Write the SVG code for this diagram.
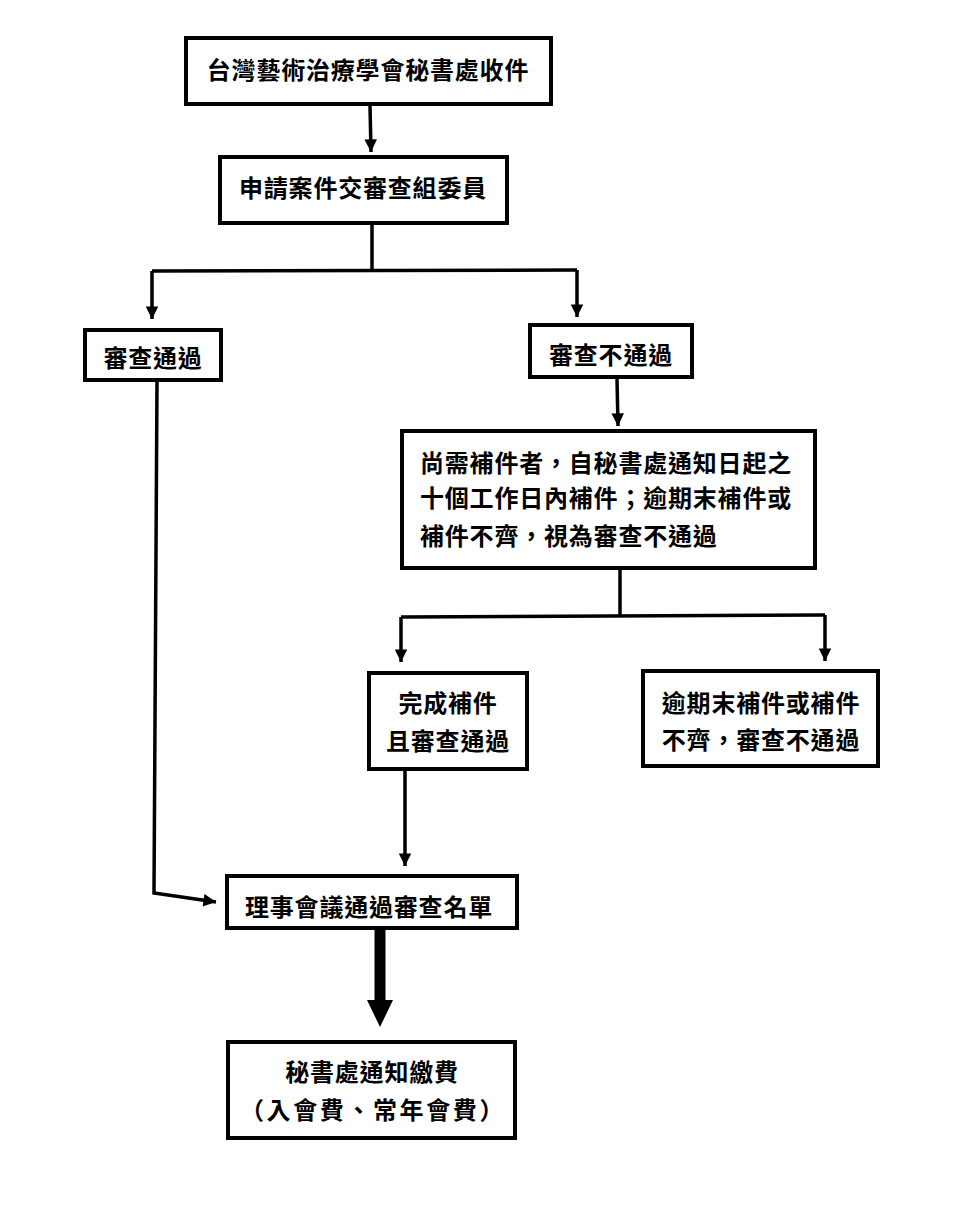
<svg xmlns="http://www.w3.org/2000/svg" width="955" height="1208" viewBox="0 0 955 1208">
<defs>
<marker id="ah" viewBox="0 0 10 10" refX="10" refY="5" markerWidth="4" markerHeight="3.6" orient="auto" markerUnits="strokeWidth">
<path d="M0,0 L10,5 L0,10 Z" fill="#000"/>
</marker>
<style>
.box{fill:#fff;stroke:#000;stroke-width:4}
.t{font-family:"Noto Sans CJK TC","Noto Sans CJK SC",sans-serif;font-size:24px;font-weight:700;fill:#000;letter-spacing:0.8px}
.c{text-anchor:middle}
.ln{fill:none;stroke:#000;stroke-width:3.5}
</style>
</defs>
<rect width="955" height="1208" fill="#fff"/>
<g id="connectors">
<path class="ln" d="M370,106 L371,152" marker-end="url(#ah)"/>
<path class="ln" d="M372,225 L372,271"/>
<path class="ln" d="M152,271 L577,270"/>
<path class="ln" d="M152,271 L152,319" marker-end="url(#ah)"/>
<path class="ln" d="M577,270 L577,317" marker-end="url(#ah)"/>
<path class="ln" d="M617,379 L618,426" marker-end="url(#ah)"/>
<path class="ln" d="M620,570 L620,615"/>
<path class="ln" d="M401,617 L825,615"/>
<path class="ln" d="M401,617 L401,662" marker-end="url(#ah)"/>
<path class="ln" d="M825,615 L825,661" marker-end="url(#ah)"/>
<path class="ln" d="M405,771 L405,866" marker-end="url(#ah)"/>
<path class="ln" d="M157,382 L154,893 L216,902" marker-end="url(#ah)"/>
<path d="M374.5,930 L385.5,930 L385.5,1000 L393,1000 L380,1027 L367,1000 L374.5,1000 Z" fill="#000"/>
</g>
<g id="n1"><rect class="box" x="186" y="38" width="365" height="66"/><text class="t c" x="368" y="79">台灣藝術治療學會秘書處收件</text></g>
<g id="n2"><rect class="box" x="220" y="157" width="287" height="66"/><text class="t c" x="363" y="197">申請案件交審查組委員</text></g>
<g id="n3"><rect class="box" x="85" y="330" width="136" height="50"/><text class="t c" x="153" y="367">審查通過</text></g>
<g id="n4"><rect class="box" x="530" y="325" width="162" height="52"/><text class="t c" x="611" y="364">審查不通過</text></g>
<g id="n5"><rect class="box" x="402" y="431" width="413" height="137"/>
<text class="t" x="420" y="472">尚需補件者，自秘書處通知日起之</text>
<text class="t" x="420" y="507">十個工作日內補件；逾期末補件或</text>
<text class="t" x="420" y="545">補件不齊，視為審查不通過</text></g>
<g id="n6"><rect class="box" x="369" y="673" width="158" height="96"/><text class="t c" x="448" y="712">完成補件</text><text class="t c" x="448" y="750">且審查通過</text></g>
<g id="n7"><rect class="box" x="643" y="671" width="235" height="95"/><text class="t c" x="761" y="712">逾期末補件或補件</text><text class="t c" x="761" y="749">不齊，審查不通過</text></g>
<g id="n8"><rect class="box" x="227" y="876" width="290" height="52"/><text class="t c" x="369" y="916">理事會議通過審查名單</text></g>
<g id="n9"><rect class="box" x="228" y="1042" width="287" height="96"/><text class="t c" x="372" y="1081">秘書處通知繳費</text><text class="t c" x="373" y="1119" style="letter-spacing:2.6px">（入會費、常年會費）</text></g>
</svg>
